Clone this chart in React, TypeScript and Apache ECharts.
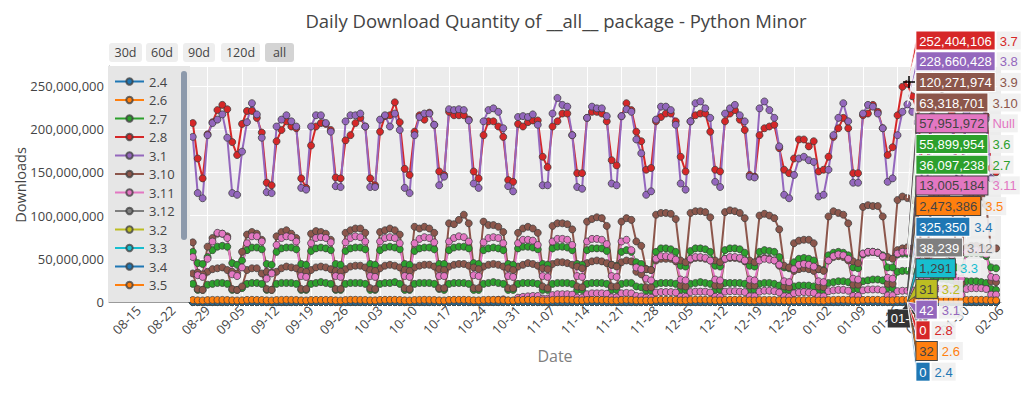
import React, { useEffect, useRef } from "react";
import * as echarts from "echarts";

// ---------- axis / layout constants ----------
const AXIS_START_UTC = Date.UTC(2022, 7, 9); // first category: 08-09
const AXIS_DAY_COUNT = 182; // through 02-06
const DATA_OFFSET = 17; // data starts 2022-08-26
const HOVER_DAY = 145; // 2023-01-18 (index into value arrays)
const Y_MAX = 273e6;
const Y_STEP = 50e6;

// ---------- series values ----------
// rows: 08-26..08-28, then weeks Mon..Sun starting 08-29
// units: M = millions, K = thousands, raw = downloads
const v24 = [ // raw
  0,1,0,
  1,0,2,0,1,0,0, 0,1,0,0,2,0,1, 1,0,0,1,0,0,0, 0,2,1,0,0,1,0, 1,0,0,0,1,0,0,
  0,0,1,2,0,0,1, 1,0,0,0,0,1,0, 0,1,0,1,0,0,0, 2,0,0,0,1,0,0, 0,0,1,0,0,0,1,
  1,1,0,0,0,0,0, 0,0,0,1,1,0,0, 0,1,0,0,0,0,0, 1,0,0,2,0,0,1, 0,0,1,0,0,0,0,
  0,1,0,0,1,0,0, 1,0,0,0,0,0,0, 0,0,0,1,0,0,0, 0,1,0,0,0,1,0, 1,0,0,0,1,0,0,
  0,1,0,0,0,0,0, 0,0,1,0,0,0,1, 1,0,0,0,1,0,0,
];
const v26 = [ // raw
  28,19,22,
  35,31,38,29,33,18,21, 24,36,30,34,27,20,17, 33,29,37,31,35,22,19, 30,34,28,36,32,17,23,
  37,31,33,29,30,21,18, 29,35,32,38,27,19,20, 34,28,36,30,33,23,16, 31,37,29,35,28,18,22,
  36,30,34,32,31,20,19, 28,33,39,30,34,21,17, 35,29,31,37,26,19,22, 30,36,33,28,35,18,20,
  33,31,27,22,24,16,18, 37,30,35,33,29,22,19, 29,34,31,36,32,17,21, 36,32,38,30,28,20,18,
  31,35,29,33,26,19,17, 24,27,30,26,25,16,18, 33,36,31,35,30,21,20, 30,34,37,29,33,18,22,
  35,29,32,34,31,20,19, 32,37,30,36,29,21,18, 34,31,35,33,30,19,20,
];
const v27 = [ // M
  21,14,14,
  20,21,22,22,21,14,14, 16,21,22,22,21,14,14, 21,22,22,22,21,14,14, 21,22,23,22,21,14,14,
  21,22,22,22,21,14,14, 21,22,22,23,21,14,14, 21,22,22,22,21,15,14, 21,22,22,22,21,14,14,
  21,22,23,22,21,14,14, 21,22,22,22,21,14,14, 21,22,22,22,21,14,14, 21,22,22,22,21,14,14,
  21,22,22,18,17,13,13, 21,22,22,22,21,14,14, 21,22,23,22,21,14,14, 22,22,22,22,21,14,14,
  21,22,22,21,19,14,14, 18,19,19,19,18,13,13, 22,23,24,24,23,15,15, 24,25,26,26,25,16,16,
  35,36,36.097238,36,33,17,17, 30,28,27,26,25,15,15, 24,24,24,23,22,15,14,
];
const v28 = [ // raw
  1,0,0,
  0,2,1,0,0,0,1, 1,0,0,1,0,0,0, 0,0,1,0,2,0,0, 1,1,0,0,0,0,0, 0,0,0,1,0,1,0,
  2,0,1,0,0,0,0, 0,1,0,0,1,0,0, 0,0,0,2,0,0,1, 1,0,1,0,0,0,0, 0,1,0,0,0,1,0,
  0,0,2,0,1,0,0, 1,0,0,0,0,0,0, 0,0,1,0,0,0,1, 0,1,0,1,0,0,0, 1,0,0,0,2,0,0,
  0,0,1,0,0,0,0, 0,1,0,0,0,0,1, 0,0,0,0,1,0,0, 1,0,1,0,0,0,0, 0,0,0,1,0,0,0,
  1,0,0,0,1,0,0, 0,1,0,0,0,0,0, 0,0,1,0,0,1,0,
];
const v31 = [ // raw
  41,27,25,
  45,48,39,52,44,26,29, 33,47,51,42,46,28,24, 49,43,50,46,41,25,27, 44,52,47,40,48,29,26,
  46,41,53,49,43,24,28, 50,45,42,47,51,27,25, 43,49,46,54,40,26,29, 48,44,51,45,47,28,24,
  42,50,47,43,49,25,27, 47,45,52,48,44,29,26, 51,43,46,50,42,27,28, 44,48,41,47,45,24,26,
  46,50,44,33,30,23,25, 49,42,48,51,46,28,27, 43,47,53,44,48,26,24, 50,46,45,49,41,27,29,
  45,51,47,42,39,25,23, 36,40,38,41,35,24,26, 48,44,50,46,43,28,27, 46,52,45,48,44,26,25,
  43,47,42,50,45,27,28, 49,45,51,44,47,25,26, 47,50,46,48,43,28,24,
];
const v310 = [ // M
  33,15,14,
  35,38,39,40,37,15,14, 18,37,39,39,33,15,14, 35,39,41,40,39,15,15, 37,40,41,40,38,15,15,
  38,41,42,42,40,16,15, 39,42,43,42,40,16,15, 40,42,43,43,41,16,16, 41,43,44,44,42,16,16,
  41,43,44,43,41,16,16, 41,43,45,44,42,18,16, 44,46,46,45,43,18,17, 45,47,48,47,45,18,18,
  46,48,47,35,32,17,17, 48,50,50,50,47,19,18, 49,51,51,50,48,19,19, 50,51,51,50,47,19,19,
  49,51,50,48,42,18,17, 36,38,39,38,36,18,17, 48,52,53,52,48,20,20, 55,57,58,57,52,21,21,
  60,62,63.318701,62,56,23,22, 62,64,64,63,58,23,22, 63,65,65,64,60,24,23,
];
const v311 = [ // M
  0.1,0.1,0.1,
  0.1,0.2,0.2,0.2,0.1,0.1,0.1, 0.1,0.2,0.2,0.2,0.2,0.1,0.1, 0.2,0.2,0.2,0.2,0.2,0.1,0.1,
  0.2,0.2,0.3,0.2,0.2,0.1,0.1, 0.2,0.3,0.3,0.3,0.2,0.1,0.1, 0.3,0.3,0.3,0.3,0.3,0.2,0.2,
  0.3,0.3,0.4,0.3,0.3,0.2,0.2, 0.4,0.4,0.4,0.4,0.4,0.2,0.2,
  0.8,1.5,2,2.5,3,1.5,1.5, 5,6,6.5,7,7,4,4, 8,9,9,9,8.5,5,5, 9,10,10,10,9.5,5.5,5.5,
  10,10.5,10,7,6.5,5,5, 11,11.5,11.5,11.5,11,6,6, 11.5,12,12,12,11,6,6, 12,12.5,12.5,12,11.5,6.5,6.5,
  12,13,13,12.5,11,6.5,6, 10,11,11.5,11,10.5,6.5,6.5, 12.5,13.5,14,14,13,7,7, 13.5,14.5,14.5,14.5,13.5,7.5,7.5,
  12.5,13,13.005184,13.5,13,7.5,7.5, 14.5,15.5,15.5,15.5,14.5,8,8, 15,16,16,16,15,8.5,8.5,
];
const v312 = [ // K
  4,3,3,
  5,5,5,5,4,3,3, 4,5,5,5,5,3,3, 5,5,6,5,5,3,3, 5,6,6,6,5,4,3, 6,6,6,6,5,4,4,
  6,6,7,6,6,4,4, 6,7,7,7,6,4,4, 7,7,7,7,6,4,4, 8,12,14,15,14,9,8, 16,17,18,18,17,11,10,
  19,20,21,21,19,12,11, 21,22,23,22,21,13,12, 23,24,23,18,16,12,12, 25,27,27,27,25,15,14,
  27,28,29,28,26,16,15, 28,30,30,29,27,16,15, 29,30,30,29,25,15,14, 24,26,27,26,25,15,15,
  31,33,34,34,32,18,17, 34,36,37,36,34,20,19, 36,38,38.239,38,35,21,20, 38,40,40,39,37,22,21,
  39,41,41,40,38,22,21,
];
const v32 = [ // raw
  29,18,20,
  33,30,36,28,31,19,17, 22,34,29,35,30,18,20, 31,36,28,33,29,21,16, 35,28,32,30,34,17,19,
  29,33,37,31,28,20,18, 32,30,29,36,33,16,21, 36,31,34,28,30,19,17, 28,35,31,33,29,21,20,
  33,29,36,30,32,18,19, 30,34,28,35,31,20,16, 35,31,33,29,34,17,21, 29,36,30,32,28,19,18,
  32,28,31,24,22,16,17, 34,30,35,31,33,20,19, 31,33,29,36,30,18,21, 36,29,32,30,35,21,17,
  30,34,31,29,26,17,19, 25,28,27,30,26,18,16, 33,31,36,32,29,20,18, 29,35,30,34,31,19,21,
  34,30,31,33,28,18,20, 31,36,29,35,32,21,17, 35,32,34,30,33,19,18,
];
const v33 = [ // raw
  1212,874,851,
  1189,1265,1302,1288,1231,866,842, 1024,1248,1295,1311,1240,871,839, 1236,1279,1318,1296,1227,858,846,
  1242,1290,1305,1284,1219,877,852, 1251,1283,1327,1301,1238,869,835, 1230,1296,1310,1292,1225,881,848,
  1247,1288,1321,1305,1234,863,857, 1239,1301,1316,1289,1242,874,843, 1255,1276,1308,1297,1229,868,851,
  1233,1292,1319,1285,1236,879,838, 1248,1286,1303,1309,1221,865,849, 1241,1298,1314,1293,1244,872,855,
  1236,1281,1246,986,931,822,817, 1252,1294,1322,1301,1237,876,845, 1244,1287,1309,1298,1226,861,853,
  1238,1299,1317,1290,1232,870,840, 1226,1273,1285,1262,1148,832,819, 1034,1122,1140,1131,1095,828,811,
  1214,1279,1301,1294,1230,867,848, 1249,1292,1313,1288,1239,874,856, 1243,1286,1291,1302,1235,869,847,
  1251,1297,1318,1293,1241,878,852, 1246,1289,1310,1299,1233,871,844,
];
const v34 = [ // K
  318,262,255,
  309,327,334,331,318,258,252, 268,325,333,336,320,259,254, 321,330,335,332,317,261,255,
  323,331,337,333,319,260,253, 322,329,336,334,321,262,256, 324,332,338,331,318,259,254,
  320,330,335,333,320,261,257, 325,333,339,335,322,263,255, 322,331,336,332,319,260,254,
  321,329,334,333,317,258,253, 324,332,337,334,320,262,256, 323,330,336,331,318,259,255,
  320,328,318,252,240,246,244, 325,333,338,335,321,262,257, 322,331,336,333,319,260,254,
  324,332,337,334,318,261,256, 317,326,330,325,296,248,243, 262,284,291,287,279,245,240,
  313,327,333,331,318,259,253, 320,328,334,332,316,258,255, 318,324,325.35,329,314,257,252,
  321,330,335,332,318,260,254, 323,331,336,333,319,259,255,
];
const v35 = [ // M
  2.3,1.9,1.8,
  2.2,2.4,2.4,2.4,2.3,1.9,1.8, 1.9,2.4,2.5,2.4,2.3,1.9,1.8, 2.3,2.4,2.5,2.4,2.3,1.9,1.8,
  2.3,2.4,2.4,2.4,2.3,1.9,1.8, 2.3,2.5,2.5,2.4,2.3,1.9,1.9, 2.4,2.5,2.5,2.5,2.3,1.9,1.8,
  2.3,2.4,2.5,2.4,2.3,1.9,1.8, 2.4,2.5,2.5,2.5,2.4,1.9,1.9, 2.4,2.5,2.5,2.4,2.3,1.9,1.8,
  2.3,2.4,2.5,2.4,2.3,1.9,1.8, 2.4,2.5,2.5,2.5,2.3,1.9,1.9, 2.4,2.5,2.5,2.4,2.3,1.9,1.8,
  2.4,2.5,2.4,1.9,1.8,1.7,1.7, 2.4,2.5,2.5,2.5,2.4,1.9,1.9, 2.4,2.5,2.6,2.5,2.4,1.9,1.9,
  2.4,2.5,2.5,2.5,2.3,1.9,1.8, 2.3,2.4,2.4,2.3,2.1,1.8,1.7, 1.9,2.1,2.1,2.1,2.0,1.7,1.7,
  2.3,2.4,2.5,2.5,2.4,1.9,1.8, 2.4,2.5,2.5,2.5,2.4,1.9,1.9, 2.4,2.5,2.473386,2.5,2.4,1.9,1.9,
  2.4,2.5,2.5,2.5,2.4,1.9,1.9, 2.4,2.5,2.5,2.5,2.4,1.9,1.9,
];
const v36 = [ // M
  58,45,44,
  52,60,64,65,64,45,43, 48,60,63,63,61,44,43, 58,62,63,63,61,44,43, 59,62,63,62,60,44,43,
  59,62,63,63,61,44,43, 60,63,64,63,61,44,43, 59,62,63,63,61,44,44, 60,63,64,64,62,45,44,
  60,62,63,62,60,44,43, 62,64,64,63,61,44,43, 62,64,64,63,60,44,43, 60,62,62,62,59,43,42,
  58,60,58,46,44,38,37, 58,62,62,61,58,42,41, 59,62,62,61,58,42,41, 60,62,62,61,57,42,41,
  58,60,59,58,52,40,39, 46,50,51,50,48,38,37, 54,57,58,57,54,40,39, 56,58,58,57,54,40,40,
  55,56,55.899954,56,53,40,39, 56,57,57,56,53,40,39, 56,57,57,56,53,40,39,
];
const v37 = [ // M
  207,166,143,
  194,208,222,228,223,185,170, 206,221,221,213,196,138,135, 186,199,209,203,201,143,132,
  181,203,207,206,199,144,143, 187,193,207,213,203,143,135, 197,215,216,231,208,154,147,
  197,216,211,219,205,151,147, 220,216,216,216,211,151,143, 193,209,209,203,191,141,139,
  206,203,208,210,210,168,156, 203,209,218,218,193,149,149, 213,220,220,218,209,164,158,
  215,230,222,197,186,153,155, 209,214,218,218,209,168,151, 209,216,218,218,197,153,151,
  209,218,222,211,199,147,145, 193,201,203,205,178,153,149, 166,188,188,180,186,151,153,
  168,191,201,213,201,149,149, 216,218,228,220,201,170,179, 216,249,252.404106,238,222,160,155,
  225,235,238,232,218,158,152, 222,232,236,230,215,155,150,
];
const v38 = [ // M
  191,126,120,
  193,207,211,217,190,126,124, 174,208,230,217,190,127,126, 203,211,216,209,203,132,130,
  203,216,216,207,197,134,133, 209,216,216,218,203,133,133, 211,216,203,218,199,132,126,
  193,214,218,218,205,135,145, 223,222,223,222,210,137,132, 209,222,224,220,201,134,128,
  214,215,214,217,205,135,135, 218,236,228,226,193,133,131, 213,226,224,224,215,137,135,
  215,223,220,188,172,124,128, 211,226,226,222,205,137,130, 209,230,232,224,213,139,133,
  218,224,228,216,209,145,144, 224,232,222,213,180,124,120, 147,166,168,164,162,122,124,
  153,193,213,230,209,138,138, 218,228,226,218,201,139,143, 193,220,228.660428,220,208,140,138,
  215,228,230,226,210,142,140, 218,229,232,228,212,143,140,
];
const v39 = [ // M
  69,34,32,
  64,74,79,79,76,35,33, 58,78,81,79,72,35,34, 76,81,83,79,74,36,35, 79,82,81,79,72,36,35,
  80,83,85,85,80,37,36, 81,83,85,83,78,37,36, 87,85,87,85,80,38,37, 91,90,95,101,91,40,38,
  93,89,89,87,81,39,37, 80,85,87,85,80,39,38, 88,91,91,90,84,41,39, 93,96,98,97,88,43,41,
  93,97,95,70,65,38,37, 101,103,103,102,96,48,46, 103,105,105,104,98,48,46, 104,106,105,103,97,48,46,
  100,102,100,97,84,42,40, 68,71,72,72,68,38,36, 99,105,103,101,91,47,45, 110,112,111,111,99,52,50,
  118,122,120.271974,118,108,56,54, 122,125,124,121,110,58,57, 124,126,125,122,112,60,62,
];
const vNull = [ // M
  52,31,29,
  50,70,80,79,74,32,30, 40,68,76,76,70,27,33, 66,74,76,75,70,30,29, 68,74,75,74,69,30,29,
  69,74,76,75,70,30,29, 70,74,75,74,68,30,29, 68,73,75,74,69,30,30, 70,74,76,75,70,31,30,
  69,74,75,74,68,30,29, 68,72,72,71,66,30,29, 70,73,73,72,66,30,29, 70,73,73,72,67,30,29,
  70,72,60,40,38,27,25, 50,53,53,52,49,26,25, 50,52,52,51,48,26,25, 50,52,52,51,48,26,25,
  48,50,49,48,43,24,23, 38,43,44,43,41,24,23, 48,53,55,54,50,27,26, 56,58,58,57,53,28,27,
  56,58,57.951972,57,53,28,27, 57,59,59,58,54,28,27, 58,60,60,59,55,29,28,
];

const SERIES_NAMES = ["2.4","2.6","2.7","2.8","3.1","3.10","3.11","3.12","3.2","3.3","3.4","3.5","3.6","3.7","3.8","3.9","Null"];
const SERIES_VALUES = [v24, v26, v27, v28, v31, v310, v311, v312, v32, v33, v34, v35, v36, v37, v38, v39, vNull];
const SERIES_UNITS = [1, 1, 1e6, 1, 1, 1e6, 1e6, 1e3, 1, 1, 1e3, 1e6, 1e6, 1e6, 1e6, 1e6, 1e6];
const SERIES_COLORS = ["#1f77b4","#ff7f0e","#2ca02c","#d62728","#9467bd","#8c564b","#e377c2","#7f7f7f","#bcbd22","#17becf","#1f77b4","#ff7f0e","#2ca02c","#d62728","#9467bd","#8c564b","#e377c2"];
const LEGEND_VISIBLE = ["2.4","2.6","2.7","2.8","3.1","3.10","3.11","3.12","3.2","3.3","3.4","3.5"];
const HOVER_ORDER = ["3.7","3.8","3.9","3.10","Null","3.6","2.7","3.11","3.5","3.4","3.12","3.3","3.2","3.1","2.8","2.6","2.4"];
const LIGHT_COLORS = ["#e377c2", "#ff7f0e", "#17becf", "#bcbd22"];
const RANGE_BUTTONS = ["30d", "60d", "90d", "120d", "all"];

const TITLE = "Daily Download Quantity of __all__ package - Python Minor";

function buildCategories(): string[] {
  const out: string[] = [];
  for (let i = 0; i < AXIS_DAY_COUNT; i++) {
    const d = new Date(AXIS_START_UTC + i * 86400000);
    out.push(String(d.getUTCMonth() + 1).padStart(2, "0") + "-" + String(d.getUTCDate()).padStart(2, "0"));
  }
  return out;
}

export default function App() {
  const ref = useRef<HTMLDivElement>(null);
  useEffect(() => {
    if (!ref.current) return;
    const chart = echarts.init(ref.current, null, { renderer: "svg" });
    const categories = buildCategories();
    const isWeekTick = (i: number) => (i - 6) % 7 === 0;

    const series = SERIES_NAMES.map((name, k) => ({
      name,
      type: "line",
      data: SERIES_VALUES[k].map((v, i) => [i + DATA_OFFSET, v * SERIES_UNITS[k]]),
      symbol: "circle",
      symbolSize: 7,
      showSymbol: true,
      showAllSymbol: true,
      clip: false,
      lineStyle: { width: 2, color: SERIES_COLORS[k] },
      itemStyle: { color: SERIES_COLORS[k], borderColor: "rgba(60,60,60,0.75)", borderWidth: 1 },
      emphasis: { disabled: true },
      z: 2,
    }));

    const font = '"Open Sans", "Noto Sans", sans-serif';
    const hoverFont = '"Liberation Sans", Arial, sans-serif';

    chart.setOption({
      animation: false,
      backgroundColor: "#ffffff",
      grid: { left: 109, right: 23, top: 66, bottom: 95, show: true, backgroundColor: "#ececec", borderWidth: 0 },
      xAxis: {
        type: "category",
        data: categories,
        boundaryGap: false,
        axisLine: { show: true, lineStyle: { color: "#9a9a9a", width: 1 } },
        axisTick: { show: false },
        axisLabel: { interval: (i: number) => isWeekTick(i), rotate: 45, color: "#444", fontSize: 13, fontFamily: font, margin: 6 },
        splitLine: { show: true, interval: (i: number) => isWeekTick(i), lineStyle: { color: "#ffffff", width: 1 } },
      },
      yAxis: {
        type: "value",
        min: 0,
        max: Y_MAX,
        interval: Y_STEP,
        axisLine: { show: true, lineStyle: { color: "#9a9a9a", width: 1 } },
        axisTick: { show: false },
        axisLabel: {
          color: "#444", fontSize: 13, fontFamily: font, margin: 5,
          formatter: (v: number) => (v % Y_STEP === 0 ? v.toLocaleString("en-US") : ""),
        },
        splitLine: { show: true, lineStyle: { color: "#ffffff", width: 1 } },
      },
      legend: {
        show: true,
        orient: "vertical",
        left: 114,
        top: 75,
        padding: 0,
        itemWidth: 29,
        itemHeight: 8,
        itemGap: 5.5,
        z: 10,
        data: LEGEND_VISIBLE,
        textStyle: { color: "#444", fontSize: 13, fontFamily: font },
      },
      series,
    });

    // ---- static decorations ----
    const g: any[] = [];
    g.push({ type: "text", z: 10, x: 556, y: 20, style: { text: TITLE, font: `18.5px ${font}`, fill: "#444", align: "center", verticalAlign: "middle" } });
    const btnX = [109, 146, 183, 221, 265];
    const btnW = [33, 32, 32, 39, 29];
    RANGE_BUTTONS.forEach((b, i) => {
      g.push({ type: "rect", z: 10, shape: { x: btnX[i], y: 43, width: btnW[i], height: 19, r: 3 }, style: { fill: b === "all" ? "#d4d4d4" : "#eeeeee" } });
      g.push({ type: "text", z: 11, x: btnX[i] + btnW[i] / 2, y: 52.5, style: { text: b, font: `12.5px ${font}`, fill: "#444", align: "center", verticalAlign: "middle" } });
    });
    g.push({ type: "text", z: 10, x: 20, y: 185, rotation: Math.PI / 2, style: { text: "Downloads", font: `14.5px ${font}`, fill: "#444", align: "center", verticalAlign: "middle" } });
    g.push({ type: "text", z: 10, x: 555, y: 356, style: { text: "Date", font: `16px ${font}`, fill: "#808080", align: "center", verticalAlign: "middle" } });
    // legend box + scrollbar
    g.push({ type: "rect", z: 3, shape: { x: 108, y: 66, width: 82, height: 236 }, style: { fill: "#e6e6e6" } });
    g.push({ type: "rect", z: 11, shape: { x: 181, y: 71, width: 6, height: 169, r: 3 }, style: { fill: "#8c99ab" } });

    const hoverCat = HOVER_DAY + DATA_OFFSET;
    let pxHover = 0;
    HOVER_ORDER.forEach((name, i) => {
      const k = SERIES_NAMES.indexOf(name);
      const val = Math.round(SERIES_VALUES[k][HOVER_DAY] * SERIES_UNITS[k]);
      const pt = chart.convertToPixel({ xAxisIndex: 0, yAxisIndex: 0 }, [hoverCat, val]) as number[];
      const px = pt[0], py = pt[1];
      pxHover = px;
      const color = SERIES_COLORS[k];
      const light = LIGHT_COLORS.includes(color);
      const txt = light ? "#444" : "#ffffff";
      const border = light ? "#444" : "#ffffff";
      const cy = 40.5 + i * 20.7;
      const lx = px + 9;
      g.push({ type: "polygon", z: 20 + i * 0.01, shape: { points: [[px, py], [lx + 0.5, cy - 6], [lx + 0.5, cy + 6]] }, style: { fill: color, stroke: border, lineWidth: 0.8 } });
      g.push({
        type: "text", z: 21 + i * 0.01, x: lx, y: cy,
        style: {
          text: `{v|${val.toLocaleString("en-US")}}{g| }{n|${name}}`,
          align: "left", verticalAlign: "middle",
          rich: {
            v: { fill: txt, color: txt, backgroundColor: color, borderColor: border, borderWidth: 1, padding: [3, 3, 2, 3], fontSize: 13, lineHeight: 14, fontFamily: hoverFont },
            g: { width: 2, fontSize: 13, lineHeight: 14 },
            n: { fill: color, color: color, backgroundColor: "rgba(240,240,240,0.9)", padding: [3, 3, 2, 3], fontSize: 13, lineHeight: 14, fontFamily: hoverFont },
          },
        },
      });
    });
    // x hover label
    g.push({ type: "polygon", z: 19, shape: { points: [[pxHover, 303], [pxHover - 5, 309], [pxHover + 5, 309]] }, style: { fill: "#333" } });
    g.push({ type: "text", z: 19, x: pxHover, y: 318.5, style: { text: categories[hoverCat], font: `13px ${hoverFont}`, fill: "#fff", backgroundColor: "#333", padding: [3, 3, 2, 3], align: "center", verticalAlign: "middle" } });
    // mouse crosshair cursor
    g.push({ type: "line", z: 30, shape: { x1: 903, y1: 82, x2: 915, y2: 82 }, style: { stroke: "#000", lineWidth: 1.5 } });
    g.push({ type: "line", z: 30, shape: { x1: 909, y1: 76, x2: 909, y2: 88 }, style: { stroke: "#000", lineWidth: 1.5 } });

    chart.setOption({ graphic: g });
    return () => chart.dispose();
  }, []);
  return <div ref={ref} style={{ position: "fixed", left: 0, top: 0, width: 1024, height: 397 }} />;
}
